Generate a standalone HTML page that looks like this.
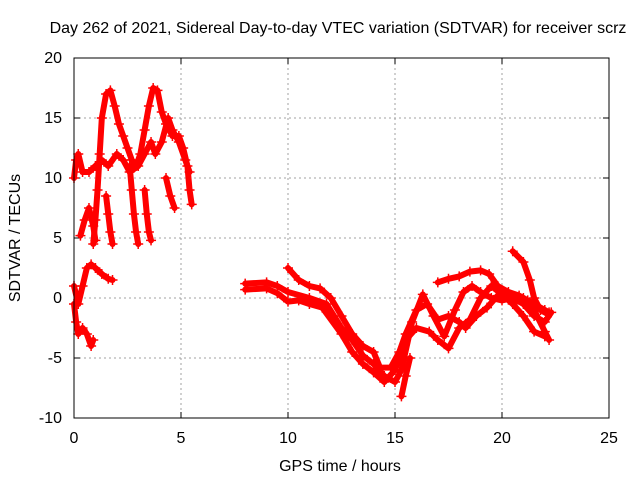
<!DOCTYPE html>
<html><head><meta charset="utf-8"><style>
body{margin:0;background:#fff}
svg{display:block;font-family:"Liberation Sans",sans-serif;font-size:16px}
</style></head><body>
<svg id="chart" width="640" height="480">
<text x="338" y="33" text-anchor="middle">Day 262 of 2021, Sidereal Day-to-day VTEC variation (SDTVAR) for receiver scrz</text>
<text x="340" y="471" text-anchor="middle">GPS time / hours</text>
<text transform="translate(20,238) rotate(-90)" text-anchor="middle">SDTVAR / TECUs</text>
<g id="grid"></g><g id="ticks"></g><g id="series"></g>
<rect x="74" y="58" width="535" height="360" fill="none" stroke="#000" stroke-width="1"/>
</svg>
<script>
const xTicks=[0,5,10,15,20,25];
const yTicks=[-10,-5,0,5,10,15,20];
const trace1=[[8,1.2],[9,1.3],[9.5,1.0],[10,0.5],[11,0],[11.8,-0.5],[12.5,-2.5],[13,-3.5],[13.5,-4.8],[14,-5.5],[14.5,-6.5],[15,-7],[15.3,-6],[15.8,-2],[16.3,0.3],[16.8,-1.5],[17.3,-3.2],[17.8,-1],[18.2,0.5],[18.6,1],[19,0.5],[19.5,0],[20,-0.2],[20.5,0],[21,-0.5],[21.5,-1.5],[22,-2],[22.3,-1.2]];
const trace2=[[8,0.7],[9,0.8],[9.5,0.4],[10,-0.3],[10.5,-0.2],[11,-0.5],[11.6,-0.8],[12.5,-3],[13,-4.5],[13.5,-5.5],[14,-6.2],[14.5,-7],[15,-6],[15.5,-3.5],[16,-2.5],[16.6,-2.8],[17,-3.5],[17.5,-4.2],[18,-2.5],[18.5,-1.8],[19,0],[19.5,1],[20,0.3],[20.5,-0.5],[21,-1.5],[21.5,-2.8],[22,-3.2]];
const trace3=[[10,2.5],[10.5,1.5],[11,1.0],[11.5,0.8],[12,0],[12.5,-1.5],[13,-3],[13.5,-4],[14,-4.5],[14.3,-5.8],[14.8,-5.8],[15.2,-4.5],[15.5,-3],[16,-1],[16.5,-0.5],[17,-1.8],[17.5,-1.5],[18,-2],[18.3,-2.5],[18.8,-1.5],[19.3,-0.8],[19.8,0.2],[20.3,0.2],[21,0],[21.5,-1],[22,-2.8],[22.2,-3.5]];
const trace4=[[17,1.3],[17.5,1.6],[18,1.8],[18.5,2.2],[19,2.3],[19.4,2.0],[19.8,1],[20.3,0.5],[20.8,0.2],[21.2,-0.2],[21.5,-0.5],[22,-1],[22.2,-1.2]];
const trace5=[[20.5,3.9],[21,3],[21.3,1.5],[21.5,0],[21.8,-1],[22.1,-1.3]];
const trace6=[[15.3,-8.2],[15.5,-6.5],[15.7,-5]];
const traceL1=[[0.9,4.5],[1.0,6.5],[1.1,9],[1.2,12],[1.3,15],[1.5,17],[1.7,17.3],[1.9,16],[2.1,14.5],[2.3,13.5],[2.5,12.5],[2.7,11.5],[2.9,11],[3.1,12],[3.3,14],[3.5,16],[3.7,17.5],[3.9,17.3],[4.1,15.5],[4.3,14.5],[4.6,13.5],[4.9,13.5],[5.1,12.5],[5.3,11],[5.4,9],[5.5,7.8]];
const traceL2=[[0,10],[0.1,11.5],[0.2,12],[0.4,10.5],[0.7,10.5],[1,11],[1.3,11.5],[1.6,11],[2,12],[2.3,11.5],[2.6,10.5],[3,11],[3.3,12],[3.6,13],[3.8,12],[4.1,13],[4.4,15],[4.6,14],[4.9,13],[5.2,11.5],[5.4,10.5]];
const traceL3=[[2.6,11],[2.7,9],[2.8,7],[2.9,5.5],[3.0,4.5]];
const traceL4=[[3.3,9],[3.4,7],[3.5,5.5],[3.6,4.8]];
const traceL5=[[4.3,10],[4.5,8.5],[4.7,7.5]];
const traceL6=[[1.5,8.5],[1.6,7],[1.7,5.5],[1.8,4.5]];
const traceL7=[[0,1],[0.2,-0.5],[0.4,1],[0.6,2.5],[0.8,2.8],[1,2.5],[1.3,2],[1.6,1.6],[1.8,1.5]];
const traceL8=[[0,-0.5],[0.1,-2],[0.2,-3],[0.4,-2.5],[0.6,-3],[0.8,-4],[0.9,-3.5]];
const traceL9=[[0.3,5.2],[0.5,6.5],[0.7,7.5],[0.9,6],[1.0,4.8]];
const traces=[trace1,trace2,trace3,trace4,trace5,trace6,traceL1,traceL2,traceL3,traceL4,traceL5,traceL6,traceL7,traceL8,traceL9];
const X=v=>74+v*535/25, Y=v=>418-(v+10)*12;
const NS="http://www.w3.org/2000/svg";
function mk(t,a,p){const e=document.createElementNS(NS,t);for(const k in a)e.setAttribute(k,a[k]);p.appendChild(e);return e;}
const grid=document.getElementById('grid'),ticks=document.getElementById('ticks'),ser=document.getElementById('series');
xTicks.forEach(v=>{
 if(v>0&&v<25){const g=mk('line',{x1:X(v),x2:X(v),y1:58,y2:418,stroke:'#a0a0a0','stroke-dasharray':'2,3'},grid);
 
 }
 mk('line',{x1:X(v),x2:X(v),y1:418,y2:412,stroke:'#000'},ticks);
 mk('line',{x1:X(v),x2:X(v),y1:58,y2:64,stroke:'#000'},ticks);
 const t=mk('text',{x:X(v),y:443,'text-anchor':'middle'},ticks);t.textContent=v;
 
 
});
yTicks.forEach(v=>{
 if(v>-10&&v<20){const g=mk('line',{x1:74,x2:609,y1:Y(v),y2:Y(v),stroke:'#a0a0a0','stroke-dasharray':'2,3'},grid);
 
 }
 mk('line',{x1:74,x2:80,y1:Y(v),y2:Y(v),stroke:'#000'},ticks);
 mk('line',{x1:609,x2:603,y1:Y(v),y2:Y(v),stroke:'#000'},ticks);
 const t=mk('text',{x:62,y:Y(v)+5,'text-anchor':'end'},ticks);t.textContent=v;
 
 
});
traces.forEach(tr=>{
 const pl=mk('polyline',{points:tr.map(p=>X(p[0])+','+Y(p[1])).join(' '),fill:'none',stroke:'#f00','stroke-width':6,'stroke-linejoin':'round','stroke-linecap':'round'},ser);
 
 
 tr.forEach(p=>{const x=X(p[0]),y=Y(p[1]);
  const m=mk('path',{d:`M${x-5},${y}H${x+5}M${x},${y-5}V${y+5}`,stroke:'#f00','stroke-width':1.5},ser);
  
  
 });
});
</script>
</body></html>
